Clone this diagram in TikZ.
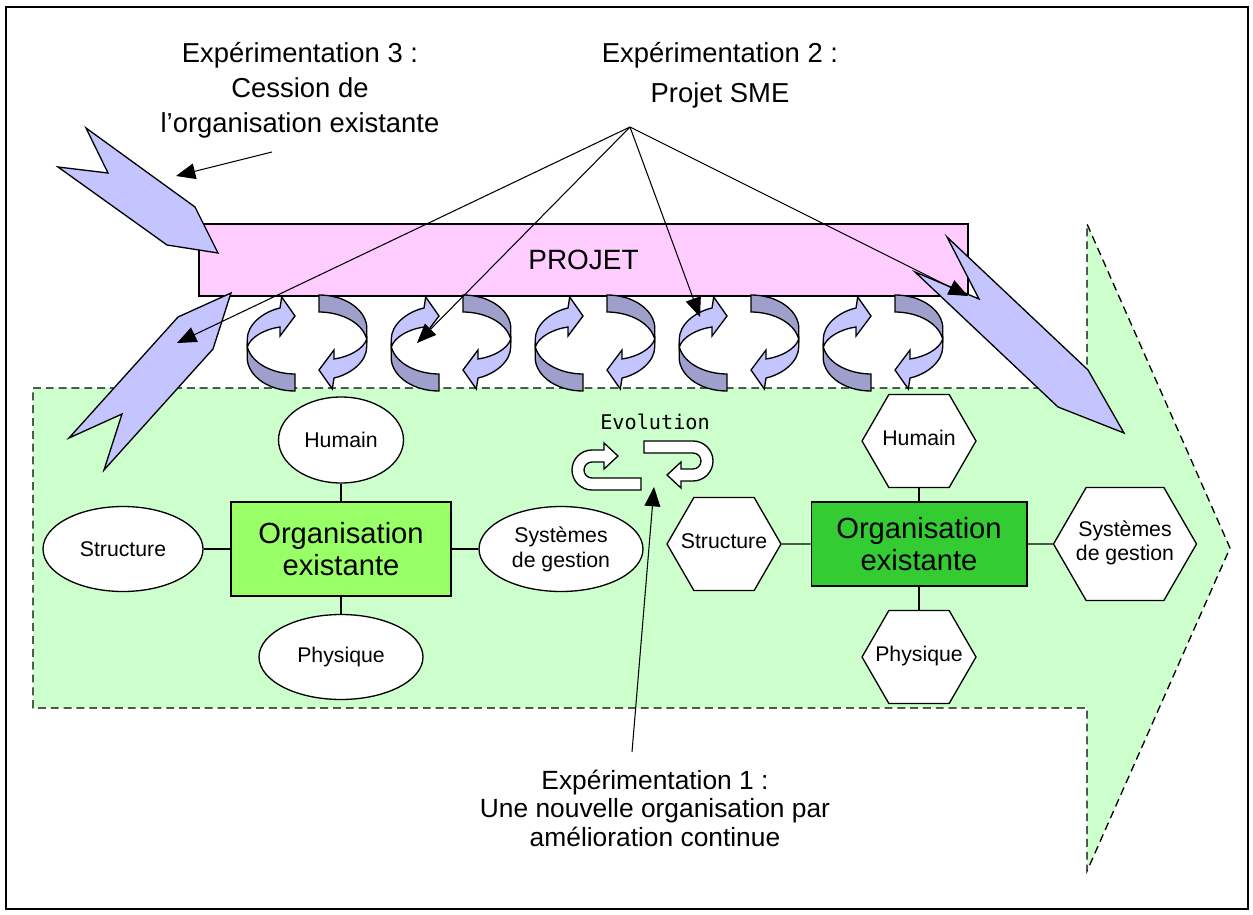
\documentclass[tikz,border=0pt]{standalone}
\usepackage{fontspec}
\setmainfont{Liberation Sans}
\newfontfamily\evofont{DejaVu Sans Mono}
\usetikzlibrary{arrows.meta,shapes.geometric,shapes.symbols}
\definecolor{zonegreen}{HTML}{CCFFCC}
\definecolor{projetpink}{HTML}{FFCCFF}
\definecolor{chevronblue}{HTML}{C4C4FF}
\definecolor{ringdark}{HTML}{9F9FCC}
\definecolor{orglight}{HTML}{99FF66}
\definecolor{orgdark}{HTML}{33CC33}
% text that does not widen the hexagon round it
\newcommand\hexlabel[1]{\makebox[0pt]{\begin{tabular}{@{}c@{}}#1\end{tabular}}}

\tikzset{
  % one half of a turning ribbon, top-left corner at the origin, y downwards
  ringarrow/.pic={
    \filldraw[edged, fill=chevronblue] (32.7,11) .. controls (15,15) and (0,28) .. (0,42)
      -- (0,50) .. controls (3,40) and (18,32) .. (32.7,30)
      -- (32.7,39) -- (47.7,19) -- (34.4,0) -- cycle;
    \filldraw[edged, fill=ringdark] (0,50) .. controls (5,68) and (28,77) .. (47.7,77)
      -- (47.7,94) .. controls (22,94) and (2,80) .. (0,63) -- cycle;
  },
  % flat u-turn arrow of the evolution sign
  uturn/.pic={
    \filldraw[edged, fill=white] (71,37) -- (22,37)
      .. controls (17.6,37) and (14,33.4) .. (14,29)
      .. controls (14,24.6) and (17.6,21) .. (22,21)
      -- (34,21) -- (34,28) -- (48,15) -- (34,2) -- (34,9) -- (22,9)
      .. controls (11,9) and (2,18) .. (2,29)
      .. controls (2,40) and (11,49) .. (22,49) -- (71,49) -- cycle;
  }
}

\begin{document}
\begin{tikzpicture}[
  x=0.02cm,
  y=-0.02cm,
  every node/.style={inner sep=1pt},
  edged/.style={draw=black, line width=0.75pt},
  chevron/.style={edged, fill=chevronblue},
  zone/.style={draw=black, line width=0.75pt, dash pattern=on 4.5pt off 2.8pt, fill=zonegreen},
  facet/.style={edged, fill=white, ellipse, inner sep=0pt,
    font=\fontsize{12.1}{14.2}\selectfont, align=center},
  hexa/.style={edged, fill=white, signal, signal to=east and west,
    signal pointer angle=120, inner sep=0pt, minimum width=2.28cm,
    minimum height=1.86cm, font=\fontsize{12.1}{13.8}\selectfont},
  orgbox/.style={draw=black, line width=0.6pt, inner sep=0pt,
    font=\fontsize{16.6}{18.2}\selectfont, align=center},
  link/.style={line width=0.75pt},
  pointer/.style={line width=0.6pt, -{Triangle[length=11pt,width=9pt]}},
  note/.style={font=\fontsize{15.6}{19.9}\selectfont, align=center}
]
  \useasboundingbox (0,0) rectangle (1253,915);
  \draw[line width=1.1pt] (6,7) rectangle (1248,909);

  % ---- the big arrow of time -------------------------------------------
  \draw[zone] (33,388) -- (1087,388) -- (1087,224) -- (1230,548)
    -- (1087,871) -- (1087,708) -- (33,708) -- cycle;

  % ---- the project bar and its turning ribbons -------------------------
  \node[edged, fill=projetpink, minimum width=15.38cm, minimum height=1.44cm,
    font=\fontsize{15.9}{18}\selectfont] (projet) at (583.5,260) {PROJET};
  \foreach \k in {0,...,4} {
    \pic at ({247.3+144*\k},297) {ringarrow};
    \pic[rotate=180] at ({366.7+144*\k},389) {ringarrow};
  }

  % ---- chevrons in and out of the project ------------------------------
  \draw[chevron] (86,128) -- (195,207) -- (218,253) -- (167,245) -- (58,167)
    -- (108,173) -- cycle;
  \draw[chevron] (231,293) -- (178,317) -- (69,438) -- (122,414) -- (104,470)
    -- (213,349) -- cycle;
  \draw[chevron] (947,237) -- (979,299) -- (915,272) -- (1058,407)
    -- (1124,433) -- (1088,370) -- cycle;

  % ---- the existing organisation ---------------------------------------
  \node[orgbox, fill=orglight, minimum width=4.4cm, minimum height=1.88cm]
    (lorg) at (341,549) {Organisation\\existante};
  \node[facet, minimum width=2.5cm, minimum height=1.72cm] (lhum) at (341,440) {Humain};
  \node[facet, minimum width=3.2cm, minimum height=1.7cm] (lstr) at (123,549) {Structure};
  \node[facet, minimum width=3.28cm, minimum height=1.7cm] (lsys) at (561,549) {Systèmes\\de gestion};
  \node[facet, minimum width=3.28cm, minimum height=1.7cm] (lphy) at (341,657) {Physique};
  \foreach \n in {lhum,lstr,lsys,lphy} \draw[link] (\n) -- (lorg);

  % ---- the organisation after the change -------------------------------
  \node[orgbox, fill=orgdark, minimum width=4.32cm, minimum height=1.68cm]
    (rorg) at (919,544) {Organisation\\existante};
  \node[hexa] (rhum) at (919,441) {\hexlabel{Humain}};
  \node[hexa] (rstr) at (724,544) {\hexlabel{Structure}};
  \node[hexa, minimum width=2.86cm, minimum height=2.26cm] (rsys) at (1125,544)
    {\hexlabel{Systèmes\\de gestion}};
  \node[hexa] (rphy) at (919,657) {\hexlabel{Physique}};
  \foreach \n in {rhum,rstr,rsys,rphy} \draw[link] (\n) -- (rorg);

  % ---- evolution sign --------------------------------------------------
  \node[font=\evofont\fontsize{11.5}{13}\selectfont] (evo) at (655,422) {Evolution};
  \pic at (570,441) {uturn};
  \pic[rotate=180] at (715,490) {uturn};

  % ---- the three experiments -------------------------------------------
  \node[note] (exp3) at (300,90) {Expérimentation 3 :\\Cession de\\l’organisation existante};
  \node[note] (exp2) at (720,75) {Expérimentation 2 :\\[2.8pt]Projet SME};
  \node[note, font=\fontsize{15}{16.2}\selectfont] (exp1) at (655,808)
    {Expérimentation 1 :\\Une nouvelle organisation par\\amélioration continue};

  \coordinate (cessfoot) at (272,152);
  \coordinate (cesshit) at (176,176);
  \draw[pointer] (cessfoot) -- (cesshit);

  \coordinate (sme) at (630,127);
  \coordinate (hitA) at (177,343);
  \coordinate (hitB) at (417,343);
  \coordinate (hitC) at (700,317);
  \coordinate (hitD) at (968,296);
  \foreach \t in {hitA,hitB,hitC,hitD} \draw[pointer] (sme) -- (\t);

  \coordinate (amfoot) at (632,752);
  \coordinate (amhit) at (654,487);
  \draw[pointer] (amfoot) -- (amhit);
\end{tikzpicture}
\end{document}
